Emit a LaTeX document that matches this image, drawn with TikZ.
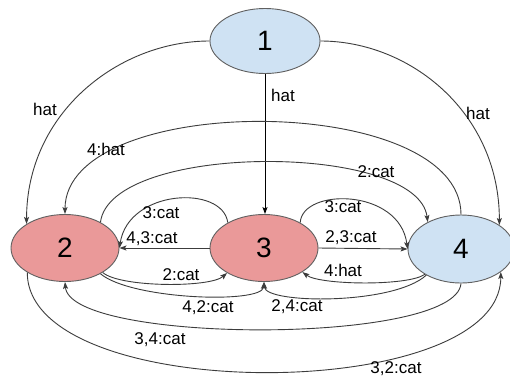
\documentclass[tikz,border=0pt]{standalone}
\usepackage{fontspec}
\setmainfont{Liberation Sans}
\usetikzlibrary{arrows.meta,shapes.geometric}
\definecolor{paleblue}{HTML}{CFE2F3}
\definecolor{palered}{HTML}{EA9999}
\definecolor{edgegray}{HTML}{3C3C3C}
\definecolor{rimgray}{HTML}{606060}

\begin{document}
\begin{tikzpicture}[x=1pt,y=-1pt,
  state/.style={ellipse, draw=rimgray, line width=0.9pt, inner sep=0pt,
                minimum width=108pt, minimum height=67pt,
                font=\fontsize{28}{30}\selectfont},
  blue state/.style={state, fill=paleblue},
  red state/.style={state, fill=palered},
  arc/.style={draw=edgegray, line width=0.9pt},
  tip/.style={arc, -{Stealth[length=7pt,width=5pt,inset=1.5pt]}},
  lbl/.style={font=\fontsize{17}{19}\selectfont, inner sep=0pt}]
\useasboundingbox (0,0) rectangle (510,381);
\fill[white] (0,0) rectangle (510,381);

% states
\node[blue state, minimum width=110pt, minimum height=65pt] (n1) at (265,41) {1};
\node[red state] (n2) at (65,248) {2};
\node[red state] (n3) at (264,248) {3};
\node[blue state, minimum width=106pt, minimum height=68pt] (n4) at (461,249) {4};

% transitions out of state 1
\draw[tip] (n1.west) .. controls +(-90,0) and +(0,-112) .. (n2.148);
\draw[tip, draw=black] (n1.south) -- (n1.south |- n3.north);
\draw[tip] (n1.east) .. controls +(90,0) and +(0,-112) .. (n4.32);

% upper arcs
\draw[tip] (n4.north) .. controls +(0,-123) and +(0,-123) .. (n2.north);
\draw[tip] (n2.36) .. controls +(10,-80) and +(-10,-80) .. (n4.141);
\draw[tip] (n3.145) .. controls +(-5,-38) and +(9,-59) .. (n2.east);
\draw[tip] (n3.35) .. controls +(2,-35) and +(-8,-61) .. (n4.west);

% straight links
\draw[tip] (n3.west) -- (n2.east);
\draw[tip] (n3.east) -- (n4.west);

% lower arcs
\draw[tip] (n2.-33) .. controls +(17,15) and +(-17,15) .. (n3.-146);
\draw[tip] (n2.-36) .. controls +(31,26) and +(-2,22) .. (n3.south);
\draw[tip] (n4.-143) .. controls +(-33,30) and +(2,22) .. (n3.south);
\draw[tip] (n4.-145) .. controls +(-17,12) and +(17,13) .. (n3.-32);
\draw[tip] (n4.south) .. controls +(-5,62) and +(5,62) .. (n2.south);
\draw[tip] (n2.-147) .. controls +(0,133) and +(0,133) .. (n4.-30);

% labels
\node[lbl] (t12) at (45,109) {hat};
\node[lbl] (t13) at (283,95) {hat};
\node[lbl] (t14) at (478,113) {hat};
\node[lbl] (t42a) at (106,149) {4:hat};
\node[lbl] (t24a) at (376,172) {2:cat};
\node[lbl] (t32a) at (161,213) {3:cat};
\node[lbl] (t32b) at (152,239) {4,3:cat};
\node[lbl] (t23a) at (181,275) {2:cat};
\node[lbl] (t23b) at (208,308) {4,2:cat};
\node[lbl] (t42b) at (160,340) {3,4:cat};
\node[lbl] (t34a) at (343,207) {3:cat};
\node[lbl] (t34b) at (351,238) {2,3:cat};
\node[lbl] (t43a) at (343,270) {4:hat};
\node[lbl] (t43b) at (297,307) {2,4:cat};
\node[lbl] (t24b) at (396,369) {3,2:cat};
\end{tikzpicture}
\end{document}
